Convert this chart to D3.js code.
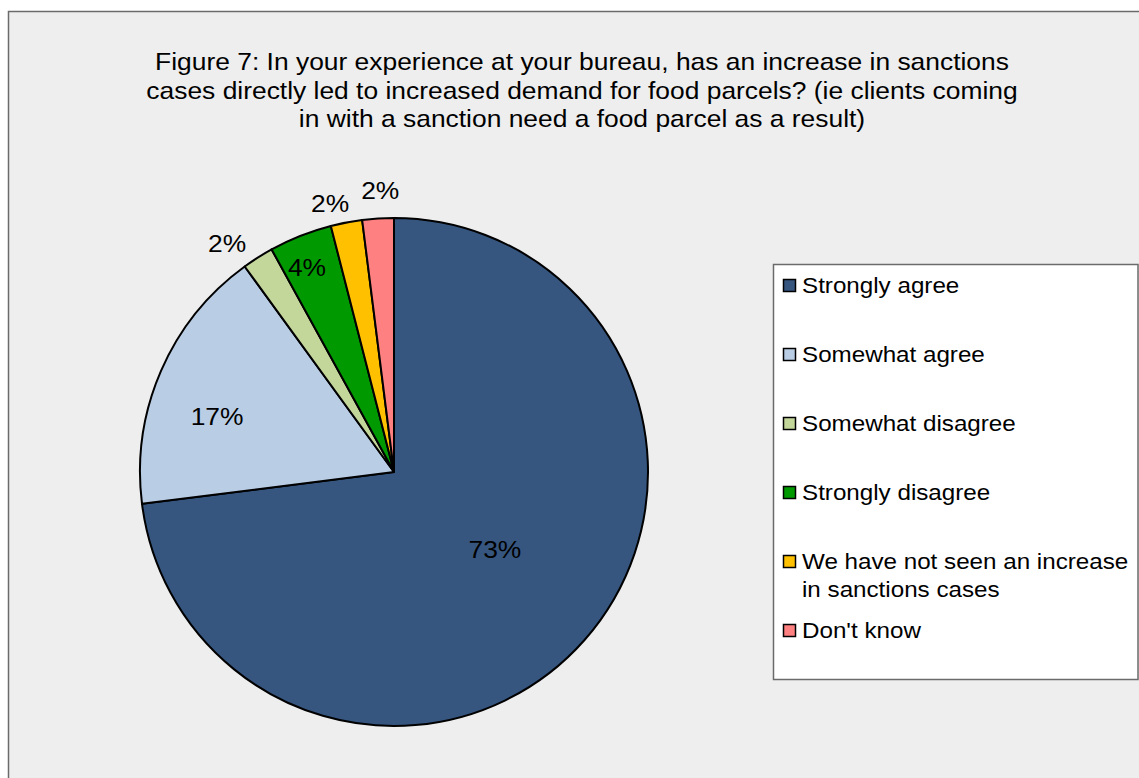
<!DOCTYPE html>
<html>
<head>
<meta charset="utf-8">
<script src="https://cdn.jsdelivr.net/npm/d3@7"></script>
<style>
  html, body { margin: 0; padding: 0; background: #ffffff; }
  svg { display: block; font-family: "Liberation Sans", Arial, sans-serif; }
</style>
</head>
<body>
<svg id="chart" width="1139" height="778"></svg>
<script>
// Survey responses (percent of bureaux)
const categories = [
  "Strongly agree",
  "Somewhat agree",
  "Somewhat disagree",
  "Strongly disagree",
  "We have not seen an increase in sanctions cases",
  "Don't know"
];
const values = [73, 17, 2, 4, 2, 2];
const colors = ["#36567F", "#B9CDE5", "#C4D79B", "#009A00", "#FFC000", "#FF8080"];
const legendLines = [
  ["Strongly agree"],
  ["Somewhat agree"],
  ["Somewhat disagree"],
  ["Strongly disagree"],
  ["We have not seen an increase", "in sanctions cases"],
  ["Don't know"]
];
// data label placement: distance from centre (share of radius) and turn off the slice middle (degrees)
const labelRadius = [0.5, 0.73, 1.115, 0.877, 1.087, 1.11];
const labelTurn = [-4, -6, -3.7, -1.4, -2.6, 0.8];
const titleLines = [
  "Figure 7: In your experience at your bureau, has an increase in sanctions",
  "cases directly led to increased demand for food parcels? (ie clients coming",
  "in with a sanction need a food parcel as a result)"
];

const svg = d3.select("#chart");
const stretch = "scale(1.1,1)";   // the text face is drawn slightly wide

// chart area frame
svg.append("rect")
  .attr("x", 8.5).attr("y", 11.5)
  .attr("width", 1160).attr("height", 800)
  .attr("fill", "#EEEEEE")
  .attr("stroke", "#6b6b6b").attr("stroke-width", 1.5);

// title
svg.append("g").selectAll("text")
  .data(titleLines)
  .join("text")
  .attr("transform", (d, i) => `translate(582,${69.7 + i * 28.8}) ${stretch}`)
  .attr("text-anchor", "middle")
  .attr("font-size", 24)
  .attr("fill", "#000")
  .text(d => d);

// pie
const cx = 394, cy = 472, R = 254;
const pie = d3.pie().sort(null).value(d => d.value);
const arcs = pie(values.map((v, i) => ({ value: v, i })));
const arc = d3.arc().innerRadius(0).outerRadius(R);

const g = svg.append("g").attr("transform", `translate(${cx},${cy})`);
g.selectAll("path")
  .data(arcs)
  .join("path")
  .attr("d", arc)
  .attr("fill", d => colors[d.data.i])
  .attr("stroke", "#000")
  .attr("stroke-width", 2)
  .attr("stroke-linejoin", "round");

g.selectAll("text.lbl")
  .data(arcs)
  .join("text")
  .attr("class", "lbl")
  .attr("transform", d => {
    const a = (d.startAngle + d.endAngle) / 2 + labelTurn[d.data.i] * Math.PI / 180;
    const r = R * labelRadius[d.data.i];
    return `translate(${Math.sin(a) * r},${-Math.cos(a) * r}) ${stretch}`;
  })
  .attr("text-anchor", "middle")
  .attr("dy", "0.36em")
  .attr("font-size", 24)
  .attr("fill", "#000")
  .text(d => d.data.value + "%");

// legend
const lg = svg.append("g");
lg.append("rect")
  .attr("x", 773.5).attr("y", 264.5)
  .attr("width", 364.5).attr("height", 415)
  .attr("fill", "#ffffff")
  .attr("stroke", "#6b6b6b").attr("stroke-width", 1.5);

const item = lg.selectAll("g.item")
  .data(categories)
  .join("g")
  .attr("class", "item")
  .attr("transform", (d, i) => `translate(783,${286 + i * 69})`);

item.append("rect")
  .attr("x", 0.5).attr("y", -6.5)
  .attr("width", 12).attr("height", 12)
  .attr("fill", (d, i) => colors[i])
  .attr("stroke", "#000").attr("stroke-width", 1.5);

item.append("text")
  .attr("transform", `translate(19,0) ${stretch}`)
  .attr("font-size", 22)
  .attr("fill", "#000")
  .selectAll("tspan")
  .data((d, i) => legendLines[i])
  .join("tspan")
  .attr("x", 0)
  .attr("y", (d, j) => 7 + j * 28)
  .text(d => d);
</script>
</body>
</html>
